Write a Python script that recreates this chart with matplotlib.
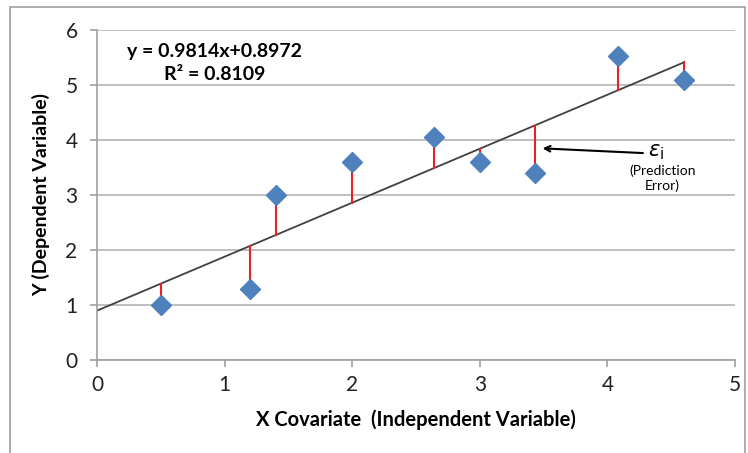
import numpy as np
import matplotlib
matplotlib.use("Agg")
from matplotlib import pyplot as plt
from matplotlib.patches import Rectangle

plt.rcParams['font.family'] = ['Lato', 'DejaVu Sans']

# observed data
x_vals = [0.5, 1.2, 1.4, 2.0, 2.64, 3.0, 3.43, 4.08, 4.6]
y_vals = [1.0, 1.3, 3.0, 3.6, 4.05, 3.6, 3.4, 5.52, 5.1]

# fitted line
slope = 0.9814
intercept = 0.8972
x_ticks = [0, 1, 2, 3, 4, 5]
y_ticks = [0, 1, 2, 3, 4, 5, 6]

fig = plt.figure(figsize=(7.48, 4.53), dpi=100)
ax = fig.add_axes([97 / 748, 1 - 360 / 453, 638 / 748, 330 / 453])

# outer frame of the chart area
fig.patches.append(Rectangle((10 / 748, -0.05), 735 / 748, 1 - 7 / 453 + 0.05,
                             transform=fig.transFigure, fill=False,
                             edgecolor='#a0a0a0', linewidth=1.2))

ax.set_xlim(0, 5)
ax.set_ylim(0, 6)
ax.set_xticks(x_ticks)
ax.set_yticks(y_ticks)
ax.grid(axis='y', color='#b4b4b4', linewidth=1.2)
ax.set_axisbelow(True)
for s in ['top', 'right']:
    ax.spines[s].set_visible(False)
for s in ['left', 'bottom']:
    ax.spines[s].set_color('#a0a0a0')
    ax.spines[s].set_linewidth(1.2)
ax.tick_params(colors='#a0a0a0', labelcolor='#222222', labelsize=15, length=5, width=1.2)
ax.tick_params(axis='x', pad=6)
ax.tick_params(axis='y', pad=9)

# regression line
xl = np.array([0, max(x_vals)])
ax.plot(xl, slope * xl + intercept, color='#404040', linewidth=1.3, zorder=2)

# residuals
for xv, yv in zip(x_vals, y_vals):
    ax.plot([xv, xv], [yv, slope * xv + intercept], color='#e8202a', linewidth=1.5, zorder=3)

ax.plot(x_vals, y_vals, 'D', color='#4f81bd', markersize=10, zorder=4)

ax.text(0.92, 5.6, 'y = 0.9814x+0.8972', ha='center', va='center', fontsize=14, fontweight='bold')
ax.text(0.92, 5.2, 'R² = 0.8109', ha='center', va='center', fontsize=14, fontweight='bold')

ax.annotate('', xy=(3.47, 3.85), xytext=(4.3, 3.76),
            arrowprops=dict(arrowstyle='->', color='black', lw=1.5))
ax.text(4.38, 3.78, r'$\varepsilon_\mathrm{i}$', ha='center', va='center', fontsize=15)
ax.text(4.43, 3.3, '(Prediction\nError)', ha='center', va='center', fontsize=10, linespacing=1.2)

ax.set_xlabel('X Covariate  (Independent Variable)', fontsize=14.5, fontweight='bold', labelpad=10)
ax.set_ylabel('Y (Dependent Variable)', fontsize=14, fontweight='bold', labelpad=11)

plt.savefig('out.png', dpi=100)
